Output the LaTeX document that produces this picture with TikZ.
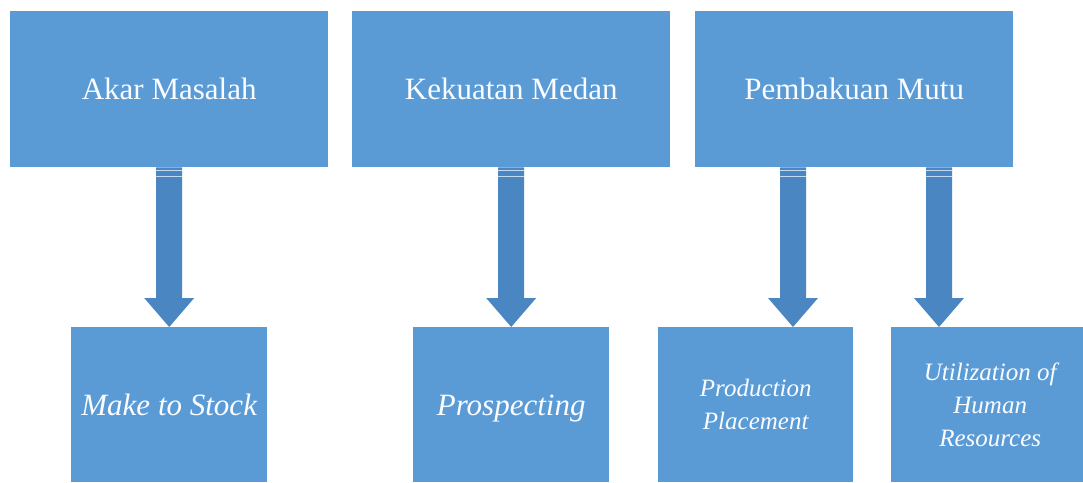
\documentclass[tikz,border=0pt]{standalone}
\usepackage{fontspec}
\setmainfont{Liberation Serif}
\usetikzlibrary{calc}
\definecolor{boxblue}{RGB}{91,155,213}
\definecolor{arrowblue}{RGB}{74,134,193}
\definecolor{stripe}{RGB}{196,218,240}
\definecolor{labelwhite}{RGB}{250,252,255}
\tikzset{
  topbox/.style={fill=boxblue, draw=none, anchor=north west, inner sep=0pt,
    minimum width=318pt, minimum height=156pt, text=labelwhite,
    font=\fontsize{31}{37}\selectfont},
  lowbox/.style={fill=boxblue, draw=none, anchor=north west, inner sep=0pt,
    minimum height=155pt, text=labelwhite, align=center,
    font=\itshape\fontsize{31}{37}\selectfont},
  oneline/.style={text height=22pt, text depth=0pt},
  smalltext/.style={font=\itshape\fontsize{25}{33}\selectfont},
  blockarrow/.style={fill=arrowblue},
  arrowstripe/.style={draw=stripe, line width=1.4pt}
}
% block arrow from a start coordinate (on a box's lower edge) down to a tip
\newcommand\blockarrow[2]{%
  \fill[blockarrow] ($(#1)+(-13,0)$) -- ($(#2)+(-13,-29)$) -- ($(#2)+(-25,-29)$)
    -- (#2) -- ($(#2)+(25,-29)$) -- ($(#2)+(13,-29)$) -- ($(#1)+(13,0)$) -- cycle;
  \draw[arrowstripe] ($(#1)+(-13,3)$) -- ($(#1)+(13,3)$);
  \draw[arrowstripe] ($(#1)+(-13,9)$) -- ($(#1)+(13,9)$);
}
\begin{document}
\begin{tikzpicture}[x=1pt, y=-1pt]
  \useasboundingbox (0,0) rectangle (1083,482);
  \clip (0,0) rectangle (1083,482);

  % upper row
  \node[topbox] (akar) at (10,11) {Akar Masalah};
  \node[topbox] (medan) at (352,11) {Kekuatan Medan};
  \node[topbox] (mutu) at (695,11) {Pembakuan Mutu};

  % lower row
  \node[lowbox, oneline, minimum width=196pt] (stock) at (71,327) {Make to Stock};
  \node[lowbox, oneline, minimum width=196pt] (prosp) at (413,327) {Prospecting};
  \node[lowbox, minimum width=195pt, smalltext] (place) at (658,327) {Production\\Placement};
  \node[lowbox, minimum width=198pt, smalltext] (human) at (891,327) {Utilization of\\Human\\Resources};

  % arrow end points
  \coordinate (s1) at (akar.south -| stock.north);
  \coordinate (t1) at (stock.north);
  \coordinate (s2) at (medan.south -| prosp.north);
  \coordinate (t2) at (prosp.north);
  \coordinate (s3) at ($(mutu.south west)+(98,0)$);
  \coordinate (t3) at (s3 |- place.north);
  \coordinate (s4) at ($(mutu.south west)+(244,0)$);
  \coordinate (t4) at (s4 |- human.north);

  \blockarrow{s1}{t1}
  \blockarrow{s2}{t2}
  \blockarrow{s3}{t3}
  \blockarrow{s4}{t4}
\end{tikzpicture}
\end{document}
